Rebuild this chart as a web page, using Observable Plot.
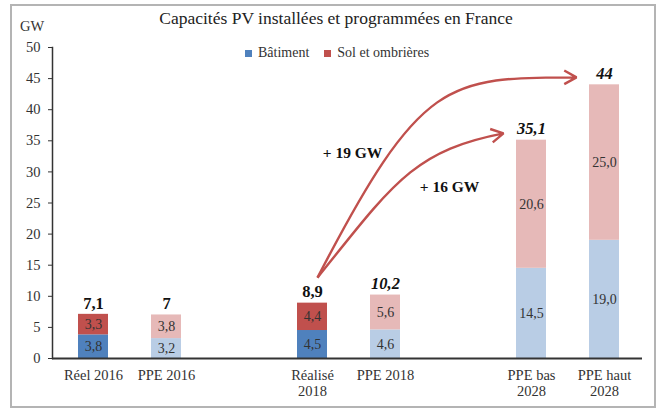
<!DOCTYPE html>
<html><head><meta charset="utf-8">
<script src="https://cdn.jsdelivr.net/npm/d3@7"></script>
<script src="https://cdn.jsdelivr.net/npm/@observablehq/plot@0.6"></script>
<style>
body{margin:0;background:#fff;}
#wrap{position:relative;width:663px;height:410px;overflow:hidden;font-family:"Liberation Serif",serif;color:#333;}
#frame{position:absolute;left:10px;top:4px;width:646px;height:404px;box-sizing:border-box;border:2px solid #b4b4b4;pointer-events:none;}
#title{position:absolute;left:0;width:672px;top:8px;text-align:center;font-size:17.5px;line-height:20px;color:#222;}
#unit{position:absolute;left:20px;top:17px;font-size:14.5px;line-height:18px;color:#333;}
#legend{position:absolute;left:245px;top:45px;display:flex;align-items:center;font-size:14px;line-height:16px;color:#333;}
#legend .sw{display:inline-block;width:7px;height:7px;margin-right:6px;}
#legend .item{display:flex;align-items:center;margin-right:15px;}
#chart{position:absolute;left:0;top:0;}
</style>
</head><body>
<div id="wrap">
  <div id="chart"></div>
  <div id="title">Capacités PV installées et programmées en France</div>
  <div id="unit">GW</div>
  <div id="legend"></div>
  <div id="frame"></div>
</div>
<script>
// ---- data ----
const categories = ["Réel 2016", "PPE 2016", "Réalisé 2018", "PPE 2018", "PPE bas 2028", "PPE haut 2028"];
const tickLabels = ["Réel 2016", "PPE 2016", "Réalisé\n2018", "PPE 2018", "PPE bas\n2028", "PPE haut\n2028"];
const series = ["Bâtiment", "Sol et ombrières"];
const batiment = [3.8, 3.2, 4.5, 4.6, 14.5, 19.0];
const sol = [3.3, 3.8, 4.4, 5.6, 20.6, 25.0];
const totals = [7.1, 7, 8.9, 10.2, 35.1, 44];
const realised = [true, false, true, false, false, false];
const yTicks = [0, 5, 10, 15, 20, 25, 30, 35, 40, 45, 50];
const arrowFrom = "Réalisé 2018";
const arrowTo = ["PPE haut 2028", "PPE bas 2028"];
const arrowStartY = 13.0;
const arrowEndY = [45.2, 36.2];
const arrowLabels = ["+ 19 GW", "+ 16 GW"];
const arrowLabelY = [33.1, 27.5];

// ---- styles ----
const colors = {
  "Bâtiment": {dark: "#4f81bd", light: "#b9cde5"},
  "Sol et ombrières": {dark: "#c0504d", light: "#e6b9b8"}
};
const arrowColor = "#c0504d";

const bandDomain = [categories[0], categories[1], "gap-a", categories[2], categories[3], "gap-b", categories[4], categories[5]];
const labelMap = new Map(categories.map((c, i) => [c, tickLabels[i]]));
const fr = v => Number.isInteger(v) ? String(v) : v.toFixed(1).replace(".", ",");
const fr1 = v => v.toFixed(1).replace(".", ",");

const rows = [];
categories.forEach((c, i) => {
  rows.push({cat: c, series: series[0], value: batiment[i], actual: realised[i]});
  rows.push({cat: c, series: series[1], value: sol[i], actual: realised[i]});
});
const totRows = categories.map((c, i) => ({cat: c, total: totals[i], italic: !realised[i] && i > 1}));
const fillOf = d => colors[d.series][d.actual ? "dark" : "light"];

// legend
const leg = document.getElementById("legend");
series.forEach(s => {
  const it = document.createElement("span"); it.className = "item";
  const sw = document.createElement("span"); sw.className = "sw"; sw.style.background = colors[s].dark;
  it.appendChild(sw); it.appendChild(document.createTextNode(s)); leg.appendChild(it);
});

const arrowRows = arrowTo.map((t, i) => ({from: arrowFrom, to: t, y1: arrowStartY, y2: arrowEndY[i], label: arrowLabels[i], ly: arrowLabelY[i]}));

// custom swoopy curve with arrowhead (shape styling only)
function swoop(p1x, p1y, p2x, p2y, inset, head, headAngle) {
  return (context) => {
    let pts = [];
    return {
      areaStart() {}, areaEnd() {},
      lineStart() { pts = []; },
      point(x, y) { pts.push([+x, +y]); },
      lineEnd() {
        if (pts.length < 2) return;
        const [x0, y0] = pts[0];
        let [x1, y1] = pts[pts.length - 1];
        x1 -= inset;
        const dx = x1 - x0, dy = y0 - y1;
        const c1x = x0 + p1x * dx, c1y = y0 - p1y * dy;
        const c2x = x1 - p2x * dx, c2y = y1 + p2y * dy;
        context.moveTo(x0, y0);
        context.bezierCurveTo(c1x, c1y, c2x, c2y, x1, y1);
        const ang = Math.atan2(y1 - c2y, x1 - c2x);
        const a = headAngle * Math.PI / 180;
        context.moveTo(x1 - head * Math.cos(ang - a), y1 - head * Math.sin(ang - a));
        context.lineTo(x1, y1);
        context.lineTo(x1 - head * Math.cos(ang + a), y1 - head * Math.sin(ang + a));
      }
    };
  };
}

const chart = Plot.plot({
  width: 663, height: 410,
  marginTop: 47, marginBottom: 52, marginLeft: 52, marginRight: 21,
  style: {fontFamily: "Liberation Serif, serif", fontSize: "14px", color: "#333", background: "transparent"},
  x: {type: "band", domain: bandDomain, paddingInner: 0.5946, paddingOuter: 0.284, align: 0.52, axis: null},
  y: {domain: [0, 50], axis: null},
  color: {type: "identity"},
  marks: [
    Plot.barY(rows, Plot.stackY({x: "cat", y: "value", fill: fillOf})),
    Plot.text(rows, Plot.stackY({x: "cat", y: "value", text: d => fr1(d.value), fill: "#333", fontSize: 14})),
    Plot.text(totRows.filter(d => !d.italic), {x: "cat", y: "total", text: d => fr(d.total), dy: -11, fontWeight: "bold", fontSize: 16.5, fill: "#111"}),
    Plot.text(totRows.filter(d => d.italic), {x: "cat", y: "total", text: d => fr(d.total), dy: -11, fontWeight: "bold", fontStyle: "italic", fontSize: 16.5, fill: "#111"}),
    Plot.link(arrowRows.slice(0, 1), {x1: "from", x2: "to", y1: "y1", y2: "y2", dx: 5,
      curve: swoop(0.4, 1.0, 0.5, 0.0, 33, 14, 29), stroke: arrowColor, strokeWidth: 2.4}),
    Plot.link(arrowRows.slice(1, 2), {x1: "from", x2: "to", y1: "y1", y2: "y2", dx: 5,
      curve: swoop(0.41, 0.66, 0.48, 0.12, 33, 14, 29), stroke: arrowColor, strokeWidth: 2.4}),
    Plot.text(arrowRows.slice(0, 1), {x: "from", y: "ly", text: "label", dx: 40, fontWeight: "bold", fontSize: 15.5, fill: "#111"}),
    Plot.text(arrowRows.slice(1, 2), {x: "from", y: "ly", text: "label", dx: 137, fontWeight: "bold", fontSize: 15.5, fill: "#111"}),
    Plot.axisY({ticks: yTicks, tickSize: 4, tickPadding: 8, stroke: "#333", fill: "#333", fontSize: 14.5}),
    Plot.axisX({tickSize: 0, tickPadding: 11, tickFormat: d => labelMap.get(d) ?? "", fill: "#333", fontSize: 14.5, lineHeight: 1.05}),
    Plot.frame({anchor: "left", stroke: "#333", strokeWidth: 1.5}),
    Plot.ruleY([0], {stroke: "#333", strokeWidth: 2})
  ]
});
document.getElementById("chart").appendChild(chart);
</script>
</body></html>
